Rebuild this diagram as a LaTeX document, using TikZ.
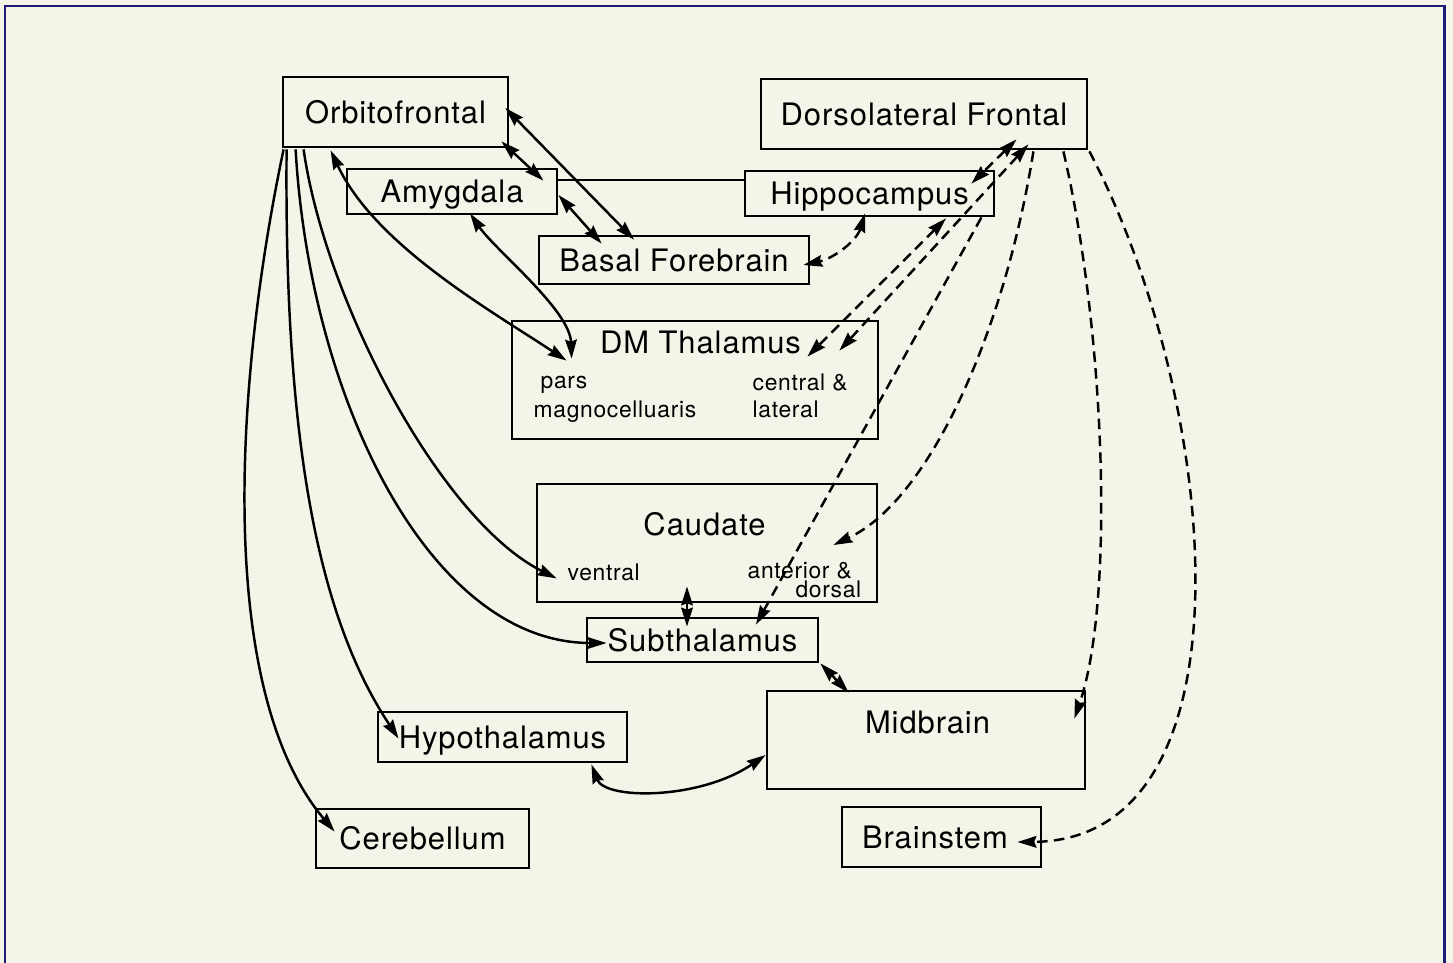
\documentclass[tikz,border=0pt]{standalone}
\usepackage{fontspec}
\setmainfont{TeX Gyre Heros}[LetterSpace=3]
\usetikzlibrary{arrows.meta}
\definecolor{paper}{RGB}{245,244,233}
\definecolor{framecol}{RGB}{30,26,120}

\begin{document}
\begin{tikzpicture}[x=0.1mm, y=-0.1mm,
    >={Stealth[length=5.4pt,width=3.3pt,inset=.6pt]},
    region/.style={draw, rectangle, line width=.8pt, inner sep=0pt, text height=6.3pt, text depth=0pt, font=\fontsize{8.8}{10}\selectfont},
    boxtitle/.style={anchor=base, inner sep=0pt, font=\fontsize{8.8}{10}\selectfont},
    sublabel/.style={anchor=base west, inner sep=0pt, font=\fontsize{6.5}{8}\selectfont},
    link/.style={line width=.7pt},
    dlink/.style={link, dash pattern=on 3pt off 1.8pt}]

    \useasboundingbox (0,0) rectangle (1453,963);
    \fill[paper] (0,0) rectangle (1453,963);
    \draw[framecol, line width=.85pt] (5,963) -- (5,6) -- (1444,6) -- (1444,963);

    % boxes
    \node[region, minimum width=22.5mm, minimum height=7mm] (OF) at (395.5,112) {Orbitofrontal};
    \node[region, minimum width=32.6mm, minimum height=7mm] (DF) at (924,114) {Dorsolateral Frontal};
    \node[region, minimum width=21mm, minimum height=4.5mm] (AM) at (452,191.5) {Amygdala};
    \node[region, minimum width=24.9mm, minimum height=4.5mm] (HC) at (869.5,193.5) {Hippocampus};
    \node[region, minimum width=27mm, minimum height=4.8mm] (BF) at (674,260) {Basal Forebrain};
    \node[region, minimum width=36.6mm, minimum height=11.8mm] (DM) at (695,380) {};
    \node[region, minimum width=34mm, minimum height=11.8mm] (CD) at (707,543) {};
    \node[region, minimum width=23.1mm, minimum height=4.4mm] (ST) at (702.5,640) {Subthalamus};
    \node[region, minimum width=31.8mm, minimum height=9.8mm] (MB) at (926,740) {};
    \node[region, minimum width=24.9mm, minimum height=5mm] (HT) at (502.5,737) {Hypothalamus};
    \node[region, minimum width=21.3mm, minimum height=5.9mm] (CB) at (422.5,838.5) {Cerebellum};
    \node[region, minimum width=19.9mm, minimum height=6mm, text width=15.9mm, align=left, inner xsep=2mm] (BS) at (941.5,837) {Brainstem};

    % titles and parts
    \node[boxtitle] (DMt) at (700.5,353) {DM Thalamus};
    \node[boxtitle] (CDt) at (704.5,535) {Caudate};
    \node[boxtitle] (MBt) at (927.5,733) {Midbrain};
    \node[sublabel] (DMa) at (540,388) {pars};
    \node[sublabel] (DMb) at (533,417) {magnocelluaris};
    \node[sublabel] (DMc) at (752,390) {central \&};
    \node[sublabel] (DMd) at (752,417) {lateral};
    \node[sublabel] (CDa) at (567,580) {ventral};
    \node[sublabel] (CDb) at (747,578) {anterior \&};
    \node[sublabel, anchor=base east] (CDc) at (862,597) {dorsal};

    % solid connections
    \draw[link, <->] ([shift={(-8,-7)}]OF.south east) -- ([shift={(-15,13)}]AM.north east);
    \draw[link, <->] ([shift={(-4,-4)}]OF.east) -- ([shift={(-40,5)}]BF.north);
    \draw[link, <->] ([shift={(0,3.5)}]AM.east) -- ([shift={(64,9)}]BF.north west);
    \draw[link] ([shift={(0,-11.5)}]AM.east) -- ([shift={(0,-13.5)}]HC.west);
    \draw[link, <->] ([shift={(18,-2)}]AM.south) .. controls (495,250) and (570,310) .. ([shift={(61,39)}]DM.north west);
    \draw[link, <->] ([shift={(49,2)}]OF.south west) .. controls (375,245) and (490,310) .. ([shift={(56,41)}]DM.north west);
    \draw[link, ->] ([shift={(22,1)}]OF.south west) .. controls (325,300) and (440,520) .. ([shift={(21,-25)}]CD.south west);
    \draw[link, ->] ([shift={(14,1)}]OF.south west) .. controls (310,400) and (430,643) .. ([shift={(21,3)}]ST.west);
    \draw[link, ->] ([shift={(5,1)}]OF.south west) .. controls (284,450) and (320,620) .. ([shift={(22,28)}]HT.north west);
    \draw[link, ->] ([shift={(2,1)}]OF.south west) .. controls (235,380) and (215,690) .. ([shift={(20,24)}]CB.north west);
    \draw[link, <->] ([shift={(-20,-17)}]CD.south) -- ([shift={(-15.5,10)}]ST.north);
    \draw[link, <->] ([shift={(1,0)}]ST.south east) -- ([shift={(83,3)}]MB.north west);
    \draw[link, <->] ([shift={(-37,1)}]HT.south east) .. controls (605,800) and (700,800) .. ([shift={(0,15)}]MB.west);

    % dashed connections
    \draw[dlink, <->] ([shift={(-72,-11)}]DF.south east) -- ([shift={(-24,14)}]HC.north east);
    \draw[dlink, <->] ([shift={(-60,-6)}]DF.south east) -- ([shift={(-40,31)}]DM.north east);
    \draw[dlink, <->] ([shift={(76.5,1)}]HC.south) -- ([shift={(-72,37)}]DM.north east);
    \draw[dlink, ->] ([shift={(-14,0)}]HC.south east) -- ([shift={(53.5,8)}]ST.north);
    \draw[dlink, ->] ([shift={(-55,1)}]DF.south east) .. controls (1005,330) and (930,500) .. ([shift={(-45,2)}]CD.east);
    \draw[dlink, ->] ([shift={(-25,1)}]DF.south east) .. controls (1105,330) and (1115,600) .. ([shift={(-12,29)}]MB.north east);
    \draw[dlink, ->] ([shift={(1,1)}]DF.south east) .. controls (1220,400) and (1260,840) .. ([shift={(-25,5)}]BS.east);
    \draw[dlink, <->] ([shift={(-4.5,-4)}]HC.south) .. controls (857,240) and (835,258) .. ([shift={(-7,5)}]BF.east);
\end{tikzpicture}
\end{document}
